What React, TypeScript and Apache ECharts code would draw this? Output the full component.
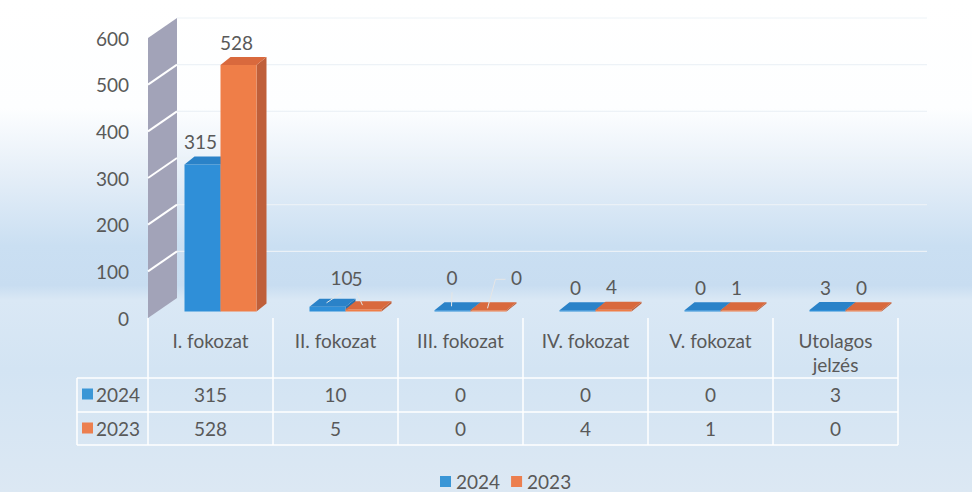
import React, { useEffect, useRef } from "react";
import * as echarts from "echarts";

const categories = ["I. fokozat", "II. fokozat", "III. fokozat", "IV. fokozat", "V. fokozat", "Utolagos\njelzés"];
const seriesNames = ["2024", "2023"];
const values2024 = [315, 10, 0, 0, 0, 3];
const values2023 = [528, 5, 0, 4, 1, 0];
const yTicks = [0, 100, 200, 300, 400, 500, 600];

const FONT = "Lato, 'Open Sans', sans-serif";
const TEXT = "#595959";
const COLORS = [
  { front: "#2f8fd8", top: "#2a82c8", side: "#2470ad", legend: "#3a96d6" },
  { front: "#ef7e48", top: "#d9693d", side: "#bf5f3a", legend: "#ec7f4f" },
];

// label nudges (px) for the labels that Excel moved and linked with leader lines
const labelNudges: Record<string, { dx: number; dy: number; leader: "straight" | "elbow" }> = {
  "0-1": { dx: 16, dy: -6, leader: "straight" },
  "1-1": { dx: -4.5, dy: -8, leader: "straight" },
  "0-2": { dx: 1.5, dy: -10, leader: "straight" },
  "1-2": { dx: 30, dy: -10, leader: "elbow" },
};

const makeBarRender = (s: number) => (params: any, api: any) => {
  const i = api.value(0);
  const v = api.value(1);
  const [cx, y0] = api.coord([i, 0]);
  const yv = api.coord([i, v])[1];
  const W = 36, DX = 10, DY = -8, BASE = -6.5;
  const x1 = cx - 26 + s * W;
  const x2 = x1 + W;
  const yb = y0 + BASE;
  let yt = yv + BASE;
  if (yb - yt < 1.2) yt = yb - 1.2;
  const c = COLORS[s];
  const children: any[] = [
    { type: "polygon", shape: { points: [[x2, yb], [x2 + DX, yb + DY], [x2 + DX, yt + DY], [x2, yt]] }, style: { fill: c.side } },
    { type: "rect", shape: { x: x1, y: yt, width: W, height: yb - yt }, style: { fill: c.front } },
    { type: "polygon", shape: { points: [[x1, yt], [x1 + DX, yt + DY], [x2 + DX, yt + DY], [x2, yt]] }, style: { fill: c.top } },
  ];
  const fcx = (x1 + x2) / 2 - 2;
  let lx = fcx;
  let ly = yt - 23;
  const nudge = labelNudges[`${s}-${i}`];
  if (nudge) {
    lx += nudge.dx;
    ly += nudge.dy;
    const sx = fcx + 1;
    const sy = yt + DY / 2;
    if (nudge.leader === "straight") {
      children.push({ type: "line", shape: { x1: sx, y1: sy, x2: lx, y2: ly + 15 }, style: { stroke: "#e6e6e6", lineWidth: 1 } });
    } else {
      children.push({
        type: "polyline",
        shape: { points: [[sx, sy + 2], [lx - 21, ly + 2], [lx - 11, ly + 2]] },
        style: { stroke: "#e6e6e6", fill: null, lineWidth: 1 },
      });
    }
  }
  children.push({
    type: "text",
    style: {
      text: String(v), x: lx, y: ly, align: "center", verticalAlign: "middle",
      textAlign: "center", textVerticalAlign: "middle",
      fill: TEXT, fontSize: 19, fontFamily: FONT,
    },
  });
  return { type: "group", children };
};

const wallRender = (params: any, api: any) => {
  const [cx, y0] = api.coord([0, 0]);
  const bw = api.size([1, 0])[0];
  const xl = cx - bw / 2;
  const xr = api.coord([categories.length - 1, 0])[0] + bw / 2;
  const WX = 29, WY = -20;
  const yTop = api.coord([0, yTicks[yTicks.length - 1]])[1];
  const children: any[] = [];
  yTicks.slice(1).forEach((k) => {
    const y = api.coord([0, k])[1];
    children.push({ type: "line", shape: { x1: xl + WX, y1: y + WY, x2: xr + WX, y2: y + WY }, style: { stroke: "rgba(236,241,247,0.95)", lineWidth: 1.2 } });
  });
  children.push({
    type: "polygon",
    shape: { points: [[xl, y0], [xl, yTop], [xl + WX, yTop + WY], [xl + WX, y0 + WY]] },
    style: { fill: "#a2a3b8" },
  });
  yTicks.slice(1, -1).forEach((k) => {
    const y = api.coord([0, k])[1];
    children.push({ type: "line", shape: { x1: xl, y1: y, x2: xl + WX, y2: y + WY }, style: { stroke: "#ffffff", lineWidth: 2 } });
  });
  return { type: "group", children };
};

export default function App() {
  const ref = useRef<HTMLDivElement>(null);
  useEffect(() => {
    if (!ref.current) return;
    const chart = echarts.init(ref.current, null, { renderer: "svg" });
    const seriesValues = [values2024, values2023];
    const tableLineY = [378, 412, 445];
    const graphic: any[] = [];
    tableLineY.forEach((y) => {
      graphic.push({ type: "line", shape: { x1: 77, y1: y, x2: 898, y2: y }, style: { stroke: "#ffffff", lineWidth: 1.5 } });
    });
    graphic.push({ type: "line", shape: { x1: 77, y1: 378, x2: 77, y2: 445 }, style: { stroke: "#ffffff", lineWidth: 1.5 } });
    seriesNames.forEach((name, s) => {
      const yc = 394 + s * 34;
      graphic.push({ type: "rect", shape: { x: 82, y: yc - 5.5, width: 11, height: 11 }, style: { fill: COLORS[s].legend } });
      graphic.push({
        type: "text", x: 96, y: yc,
        style: { text: name, fill: TEXT, fontSize: 19, fontFamily: FONT, verticalAlign: "middle", align: "left" },
      });
    });

    const valueAxis = (vals: number[], offset: number) => ({
      type: "category",
      data: categories,
      gridIndex: 0,
      position: "bottom",
      offset,
      axisLine: { show: false },
      axisTick: { show: false },
      splitLine: { show: false },
      axisLabel: {
        interval: 0, margin: 10, color: TEXT, fontSize: 19, fontFamily: FONT, lineHeight: 24,
        formatter: (_v: string, idx: number) => String(vals[idx]),
      },
    });

    chart.setOption({
      animation: false,
      backgroundColor: "transparent",
      grid: { left: 148, right: 74, top: 38, bottom: 174 },
      legend: {
        data: seriesNames,
        left: 435,
        top: 467,
        icon: "rect",
        itemWidth: 11,
        itemHeight: 11,
        itemGap: 11,
        textStyle: { color: TEXT, fontSize: 19, fontFamily: FONT },
      },
      xAxis: [
        {
          type: "category",
          data: categories,
          axisLine: { show: false },
          axisTick: { show: true, length: 127, interval: 0, lineStyle: { color: "#ffffff", width: 1.5 } },
          splitLine: { show: false },
          axisLabel: { interval: 0, margin: 10, color: TEXT, fontSize: 19, fontFamily: FONT, lineHeight: 24 },
        },
        valueAxis(values2024, 54),
        valueAxis(values2023, 88),
      ],
      yAxis: {
        type: "value",
        min: 0,
        max: 600,
        interval: 100,
        axisLine: { show: false },
        axisTick: { show: false },
        splitLine: { show: false },
        axisLabel: { margin: 19, color: TEXT, fontSize: 19, fontFamily: FONT },
      },
      series: [
        {
          type: "custom",
          name: "wall",
          silent: true,
          z: 1,
          clip: false,
          renderItem: wallRender,
          data: [[0, 0]],
        },
        ...seriesNames.map((name, s) => ({
          type: "custom",
          name,
          z: 2 + s,
          clip: false,
          itemStyle: { color: COLORS[s].legend },
          renderItem: makeBarRender(s),
          encode: { x: 0, y: 1 },
          data: seriesValues[s].map((v, i) => [i, v]),
        })),
      ],
      graphic,
    });
    return () => chart.dispose();
  }, []);

  return (
    <div
      style={{
        position: "fixed",
        left: 0,
        top: 0,
        width: 972,
        height: 492,
        background:
          "linear-gradient(180deg, #ffffff 0%, #fdfeff 22%, #e6eff8 35%, #cadff2 50%, #c8ddf1 58%, #dae8f5 61%, #d3e4f3 75%, #dce8f3 100%)",
      }}
    >
      <div ref={ref} style={{ width: 972, height: 492 }} />
    </div>
  );
}
